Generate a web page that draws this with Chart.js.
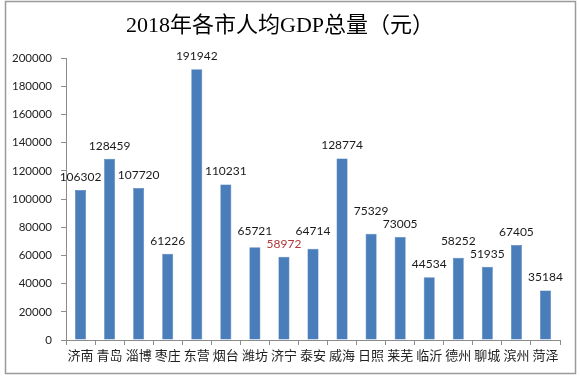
<!DOCTYPE html>
<html>
<head>
<meta charset="utf-8">
<script src="https://cdn.jsdelivr.net/npm/chart.js@4/dist/chart.umd.min.js"></script>
<style>
  html, body { margin: 0; padding: 0; background: #fff; }
  #wrap { width: 580px; height: 385px; position: relative; }
</style>
</head>
<body>
<div id="wrap"><canvas id="c" width="580" height="385"></canvas></div>
<script>
const titleText = '2018年各市人均GDP总量（元）';
const cities = ['济南','青岛','淄博','枣庄','东营','烟台','潍坊','济宁','泰安','威海','日照','莱芜','临沂','德州','聊城','滨州','菏泽'];
const gdpPerCapita = [106302,128459,107720,61226,191942,110231,65721,58972,64714,128774,75329,73005,44534,58252,51935,67405,35184];
const yTicks = [0,20000,40000,60000,80000,100000,120000,140000,160000,180000,200000];
const highlightCity = '济宁';

const borderPlugin = {
  id: 'outerBorder',
  beforeDraw(chart) {
    const ctx = chart.ctx;
    ctx.save();
    ctx.fillStyle = '#fff';
    ctx.fillRect(0, 0, chart.width, chart.height);
    ctx.strokeStyle = '#9a9a9a';
    ctx.lineWidth = 1.5;
    ctx.strokeRect(5.5, 1.5, 570, 372);
    ctx.restore();
  }
};

// value labels above bars; a label that collides with a neighbour's is lifted above it
const valueLabels = {
  id: 'valueLabels',
  afterDatasetsDraw(chart) {
    const ctx = chart.ctx;
    const meta = chart.getDatasetMeta(0);
    const data = chart.data.datasets[0].data;
    const fontSize = 12, gap = 7, h = fontSize + 1;
    ctx.save();
    ctx.font = fontSize + 'px Lato, "Liberation Sans", sans-serif';
    ctx.textAlign = 'center';
    ctx.textBaseline = 'bottom';
    const items = meta.data.map((bar, i) => {
      const text = String(data[i]);
      return { i, x: bar.x, y: bar.y - gap, w: ctx.measureText(text).width, text };
    });
    const order = items.slice().sort((a, b) => data[a.i] - data[b.i]);
    const placed = [];
    order.forEach(it => {
      let moved = true;
      while (moved) {
        moved = false;
        for (const p of placed) {
          const hOverlap = Math.abs(it.x - p.x) < (it.w + p.w) / 2 + 1;
          const vOverlap = it.y > p.y - h && it.y - h < p.y;
          if (hOverlap && vOverlap) { it.y = p.y - h; moved = true; }
        }
      }
      placed.push(it);
    });
    items.forEach(it => {
      ctx.fillStyle = chart.data.labels[it.i] === highlightCity ? '#b0383a' : '#1a1a1a';
      ctx.fillText(it.text, it.x, it.y);
    });
    ctx.restore();
  }
};

new Chart(document.getElementById('c'), {
  type: 'bar',
  data: {
    labels: cities,
    datasets: [{
      data: gdpPerCapita,
      backgroundColor: '#4a7ebb',
      borderColor: '#3f71ad',
      borderWidth: 0.5,
      barPercentage: 0.38,
      categoryPercentage: 1.0
    }]
  },
  options: {
    responsive: false,
    animation: false,
    devicePixelRatio: 1,
    layout: { padding: { left: 0, right: 20, top: 0, bottom: 5 } },
    plugins: {
      legend: { display: false },
      tooltip: { enabled: false },
      title: {
        display: true,
        text: titleText,
        color: '#000',
        font: { family: '"Liberation Serif", "Noto Sans CJK SC", serif', size: 22, weight: 'normal', lineHeight: 1.2 },
        padding: { top: 13, bottom: 18.6 }
      }
    },
    scales: {
      x: {
        grid: { display: true, drawOnChartArea: false, drawTicks: true, tickLength: 5, color: '#8c8c8c', offset: true },
        border: { display: true, color: '#8c8c8c' },
        ticks: {
          color: '#222',
          font: { family: '"Noto Sans CJK SC", sans-serif', size: 13 },
          padding: 2,
          maxRotation: 0,
          autoSkip: false
        },
        afterFit(scale) { scale.height = 40; }
      },
      y: {
        min: 0,
        max: 200000,
        afterBuildTicks(scale) { scale.ticks = yTicks.map(v => ({ value: v })); },
        grid: { display: true, drawOnChartArea: false, drawTicks: true, tickLength: 5, color: '#8c8c8c' },
        border: { display: true, color: '#8c8c8c' },
        ticks: {
          color: '#222',
          font: { family: 'Lato, "Liberation Sans", sans-serif', size: 11.5 },
          padding: 9,
          callback: v => String(v)
        },
        afterFit(scale) { scale.width = 66; }
      }
    }
  },
  plugins: [borderPlugin, valueLabels]
});
</script>
</body>
</html>
